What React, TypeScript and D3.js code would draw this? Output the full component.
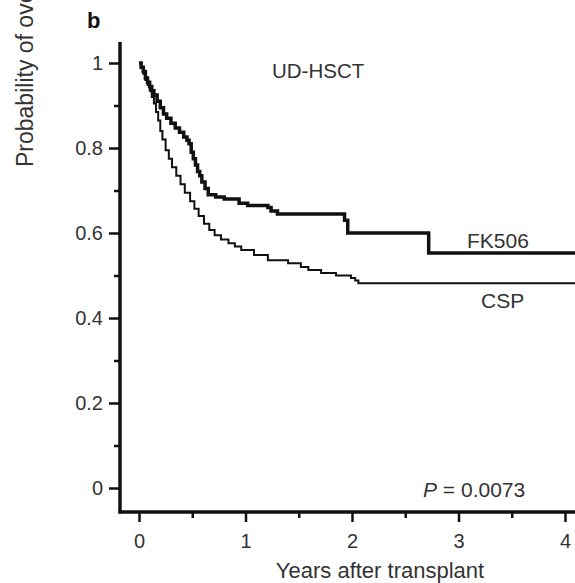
import React, { useRef, useEffect } from 'react';
import * as d3 from 'd3';

// Kaplan-Meier estimates (years, survival probability)
const fkTimes = [0, 0.02, 0.04, 0.06, 0.08, 0.1, 0.12, 0.14, 0.17, 0.2, 0.23, 0.26, 0.3, 0.34, 0.38, 0.42, 0.45, 0.47, 0.49, 0.51, 0.53, 0.55, 0.57, 0.59, 0.62, 0.65, 0.72, 0.8, 0.94, 1.02, 1.21, 1.24, 1.3, 1.93, 1.96, 2.72, 4.2];
const fkSurv = [1, 0.99, 0.98, 0.965, 0.955, 0.945, 0.935, 0.925, 0.91, 0.895, 0.88, 0.87, 0.858, 0.847, 0.837, 0.826, 0.818, 0.81, 0.79, 0.775, 0.76, 0.745, 0.735, 0.72, 0.705, 0.69, 0.685, 0.68, 0.67, 0.665, 0.66, 0.652, 0.645, 0.63, 0.6, 0.553, 0.553];

const cspTimes = [0, 0.02, 0.04, 0.06, 0.08, 0.1, 0.12, 0.14, 0.16, 0.18, 0.2, 0.22, 0.25, 0.28, 0.31, 0.35, 0.39, 0.43, 0.48, 0.52, 0.56, 0.61, 0.66, 0.71, 0.77, 0.84, 0.9, 0.96, 1.08, 1.21, 1.4, 1.52, 1.59, 1.71, 1.85, 1.99, 2.03, 2.06, 4.2];
const cspSurv = [1, 0.99, 0.975, 0.96, 0.948, 0.935, 0.92, 0.905, 0.885, 0.865, 0.84, 0.82, 0.795, 0.775, 0.755, 0.735, 0.715, 0.695, 0.675, 0.657, 0.64, 0.622, 0.607, 0.595, 0.585, 0.576, 0.568, 0.56, 0.548, 0.536, 0.529, 0.52, 0.513, 0.506, 0.5, 0.494, 0.488, 0.482, 0.482];

const xMajor = [0, 1, 2, 3, 4];
const xMinor = [0.5, 1.5, 2.5, 3.5];
const yMajor = [0, 0.2, 0.4, 0.6, 0.8, 1];
const yMinor = [0.1, 0.3, 0.5, 0.7, 0.9];

const W = 575;
const H = 583;
const FONT = 'Liberation Sans, Arial, Helvetica, sans-serif';
const TEXT = '#333';

function SurvivalChart() {
  const svgRef = useRef<SVGSVGElement>(null);

  useEffect(() => {
    const svg = d3.select(svgRef.current);
    svg.selectAll('*').remove();

    const x = d3.scaleLinear().domain([0, 4]).range([139, 565]);
    const y = d3.scaleLinear().domain([0, 1]).range([488, 63]);
    const axisX = 120;
    const axisY = 512;

    const g = svg.append('g');

    // curves
    const line = d3
      .line<[number, number]>()
      .x((d) => x(d[0]))
      .y((d) => y(d[1]))
      .curve(d3.curveStepAfter);

    g.append('path')
      .datum(cspTimes.map((t, i) => [t, cspSurv[i]] as [number, number]))
      .attr('d', line)
      .attr('fill', 'none')
      .attr('stroke', '#111')
      .attr('stroke-width', 2);

    g.append('path')
      .datum(fkTimes.map((t, i) => [t, fkSurv[i]] as [number, number]))
      .attr('d', line)
      .attr('fill', 'none')
      .attr('stroke', '#111')
      .attr('stroke-width', 3.5);

    // y axis
    const yAx = g.append('g').attr('transform', `translate(${axisX},0)`);
    yAx
      .call(d3.axisLeft(y).tickValues(yMajor).tickSize(11).tickPadding(6).tickFormat(d3.format('')))
      .call((s) => s.select('.domain').remove());
    yAx
      .append('g')
      .call(d3.axisLeft(y).tickValues(yMinor).tickSize(6).tickFormat(() => ''))
      .call((s) => s.select('.domain').remove());

    // x axis
    const xAx = g.append('g').attr('transform', `translate(0,${axisY})`);
    xAx
      .call(d3.axisBottom(x).tickValues(xMajor).tickSize(10).tickPadding(12).tickFormat(d3.format('d')))
      .call((s) => s.select('.domain').remove());
    xAx
      .append('g')
      .call(d3.axisBottom(x).tickValues(xMinor).tickSize(6).tickFormat(() => ''))
      .call((s) => s.select('.domain').remove());

    g.selectAll('.tick line').attr('stroke', '#111').attr('stroke-width', 2.5);
    g.selectAll('.tick text')
      .attr('fill', TEXT)
      .style('font-family', FONT)
      .style('font-size', '20px');

    // axis lines
    g.append('line')
      .attr('x1', axisX).attr('x2', axisX)
      .attr('y1', 42).attr('y2', axisY + 1.5)
      .attr('stroke', '#111').attr('stroke-width', 3.5);
    g.append('line')
      .attr('x1', axisX - 1.5).attr('x2', W)
      .attr('y1', axisY).attr('y2', axisY)
      .attr('stroke', '#111').attr('stroke-width', 3.5);

    const txt = (tx: number, ty: number, s: string, size: number, anchor = 'start') =>
      g.append('text')
        .attr('x', tx).attr('y', ty)
        .attr('text-anchor', anchor)
        .attr('fill', TEXT)
        .style('font-family', FONT)
        .style('font-size', `${size}px`)
        .text(s);

    txt(272, 78, 'UD-HSCT', 20.5);
    txt(467, 248, 'FK506', 21);
    txt(481, 308, 'CSP', 21);

    const p = g.append('text')
      .attr('x', 423).attr('y', 497)
      .attr('fill', TEXT)
      .style('font-family', FONT)
      .style('font-size', '21px');
    p.append('tspan').attr('font-style', 'italic').text('P');
    p.append('tspan').text(' = 0.0073');

    txt(380, 578, 'Years after transplant', 22, 'middle');

    g.append('text')
      .attr('x', 87).attr('y', 28)
      .attr('fill', '#111')
      .style('font-family', FONT)
      .style('font-size', '22px')
      .style('font-weight', 'bold')
      .text('b');

    // y title runs off the top edge, as in the source figure
    g.append('text')
      .attr('transform', 'translate(33,167) rotate(-90)')
      .attr('fill', TEXT)
      .style('font-family', FONT)
      .style('font-size', '23px')
      .text('Probability of overall survival');
  }, []);

  return <svg ref={svgRef} width={W} height={H} style={{ display: 'block' }} />;
}

export default function App() {
  return (
    <div style={{ position: 'absolute', left: 0, top: 0, background: '#fff' }}>
      <SurvivalChart />
    </div>
  );
}
